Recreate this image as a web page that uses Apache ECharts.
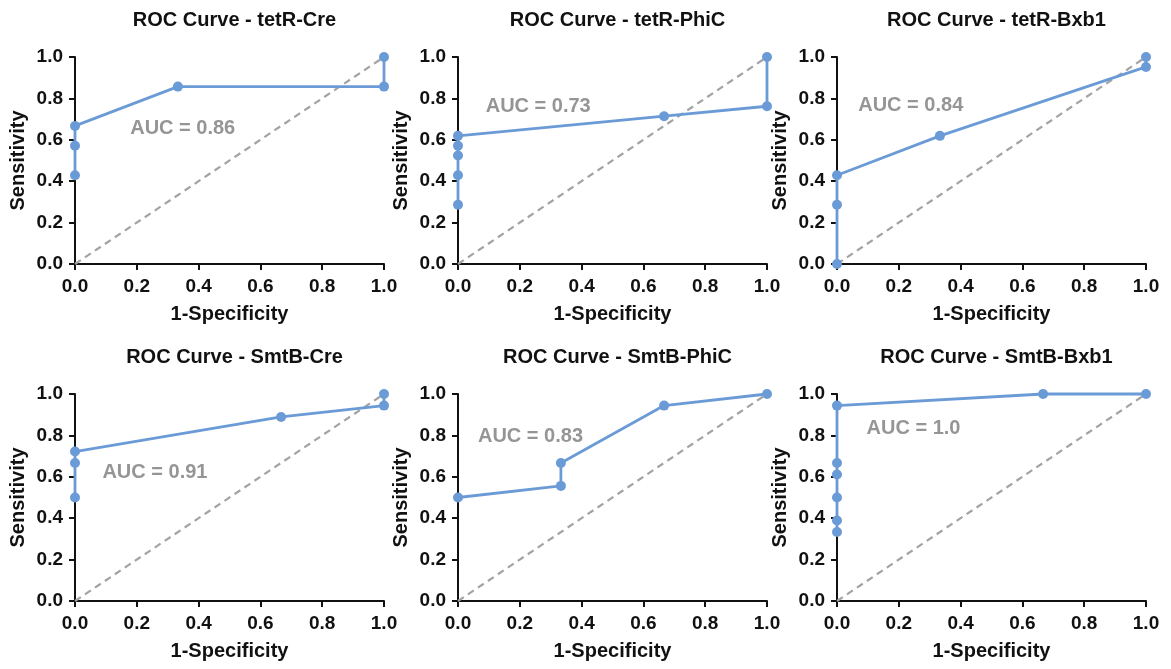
<!DOCTYPE html>
<html>
<head>
<meta charset="utf-8">
<script src="https://cdn.jsdelivr.net/npm/echarts@6/dist/echarts.min.js"></script>
<style>
    html, body { margin: 0; padding: 0; background: #fff; }
    #main { width: 1171px; height: 669px; }
</style>
</head>
<body>
<div id="main"></div>
<script>
    // panel names and AUC values
    var panelNames = ['tetR-Cre', 'tetR-PhiC', 'tetR-Bxb1', 'SmtB-Cre', 'SmtB-PhiC', 'SmtB-Bxb1'];
    var aucTexts = ['0.86', '0.73', '0.84', '0.91', '0.83', '1.0'];

    // ROC points: 1-specificity (fpr) and sensitivity (tpr)
    var fprTetRCre = [0, 0, 0, 0.333, 1, 1];
    var tprTetRCre = [0.429, 0.571, 0.667, 0.857, 0.857, 1];

    var fprTetRPhiC = [0, 0, 0, 0, 0, 0.667, 1, 1];
    var tprTetRPhiC = [0.286, 0.429, 0.524, 0.571, 0.619, 0.714, 0.762, 1];

    var fprTetRBxb1 = [0, 0, 0, 0.333, 1, 1];
    var tprTetRBxb1 = [0, 0.286, 0.429, 0.619, 0.952, 1];

    var fprSmtBCre = [0, 0, 0, 0.667, 1, 1];
    var tprSmtBCre = [0.5, 0.667, 0.722, 0.889, 0.944, 1];

    var fprSmtBPhiC = [0, 0.333, 0.333, 0.667, 1];
    var tprSmtBPhiC = [0.5, 0.556, 0.667, 0.944, 1];

    var fprSmtBBxb1 = [0, 0, 0, 0, 0, 0, 0.667, 1];
    var tprSmtBBxb1 = [0.333, 0.389, 0.5, 0.611, 0.667, 0.944, 1, 1];

    var fprList = [fprTetRCre, fprTetRPhiC, fprTetRBxb1, fprSmtBCre, fprSmtBPhiC, fprSmtBBxb1];
    var tprList = [tprTetRCre, tprTetRPhiC, tprTetRBxb1, tprSmtBCre, tprSmtBPhiC, tprSmtBBxb1];

    // where the AUC text sits (left edge, vertical middle), in data units
    var aucAnchor = [[0.177, 0.656], [0.088, 0.761], [0.067, 0.764], [0.087, 0.622], [0.063, 0.793], [0.094, 0.835]];

    (function () {
        var colLeft = [75, 458, 837];
        var rowTop = [57, 394];
        var plotW = 309, plotH = 207;
        var blue = '#6b9bd6';
        var font = 'Liberation Sans';

        function makeAxis(i, name, gap, margin) {
            return {
                gridIndex: i,
                type: 'value',
                min: 0,
                max: 1,
                interval: 0.2,
                name: name,
                nameGap: gap,
                nameLocation: 'middle',
                nameTextStyle: { fontFamily: font, fontSize: 20, fontWeight: 'bold', color: '#111' },
                axisLine: { show: true, onZero: false, lineStyle: { color: '#111', width: 2 } },
                axisTick: { show: true, length: 6, lineStyle: { color: '#111', width: 2 } },
                axisLabel: {
                    fontFamily: font, fontSize: 19, fontWeight: 'bold', color: '#111', margin: margin,
                    formatter: function (v) { return Number(v).toFixed(1); }
                },
                splitLine: { show: false }
            };
        }

        var grids = [], xAxes = [], yAxes = [], titles = [], series = [];

        for (var i = 0; i < 6; i++) {
            var gLeft = colLeft[i % 3];
            var gTop = rowTop[Math.floor(i / 3)];
            grids.push({ left: gLeft, top: gTop, width: plotW, height: plotH });
            titles.push({
                text: 'ROC Curve - ' + panelNames[i],
                left: gLeft + plotW / 2,
                top: gTop - 52,
                textAlign: 'center',
                textStyle: { fontFamily: font, fontSize: 20, fontWeight: 'bold', color: '#111' }
            });
            xAxes.push(makeAxis(i, '1-Specificity', 40, 13));
            yAxes.push(makeAxis(i, 'Sensitivity', 47, 12));

            // diagonal reference line
            series.push({
                type: 'line',
                xAxisIndex: i,
                yAxisIndex: i,
                data: [[0, 0], [1, 1]],
                symbol: 'none',
                silent: true,
                lineStyle: { color: '#a3a3a3', width: 2.2, type: [7, 5] },
                z: 1
            });

            var pts = [];
            for (var k = 0; k < fprList[i].length; k++) {
                pts.push([fprList[i][k], tprList[i][k]]);
            }
            series.push({
                type: 'line',
                xAxisIndex: i,
                yAxisIndex: i,
                data: pts,
                symbol: 'circle',
                symbolSize: 10,
                showAllSymbol: true,
                clip: false,
                itemStyle: { color: blue },
                lineStyle: { color: blue, width: 2.8 },
                z: 3
            });

            series.push({
                type: 'scatter',
                xAxisIndex: i,
                yAxisIndex: i,
                data: [aucAnchor[i]],
                symbolSize: 1,
                itemStyle: { color: 'rgba(0,0,0,0)' },
                silent: true,
                label: {
                    show: true,
                    position: 'right',
                    distance: 0,
                    formatter: 'AUC = ' + aucTexts[i],
                    fontFamily: font,
                    fontSize: 20,
                    fontWeight: 'bold',
                    color: '#7a7a7a'
                },
                z: 4
            });
        }

        var chart = echarts.init(document.getElementById('main'));
        chart.setOption({
            animation: false,
            backgroundColor: '#fff',
            title: titles,
            grid: grids,
            xAxis: xAxes,
            yAxis: yAxes,
            series: series
        });
    })();
</script>
</body>
</html>
